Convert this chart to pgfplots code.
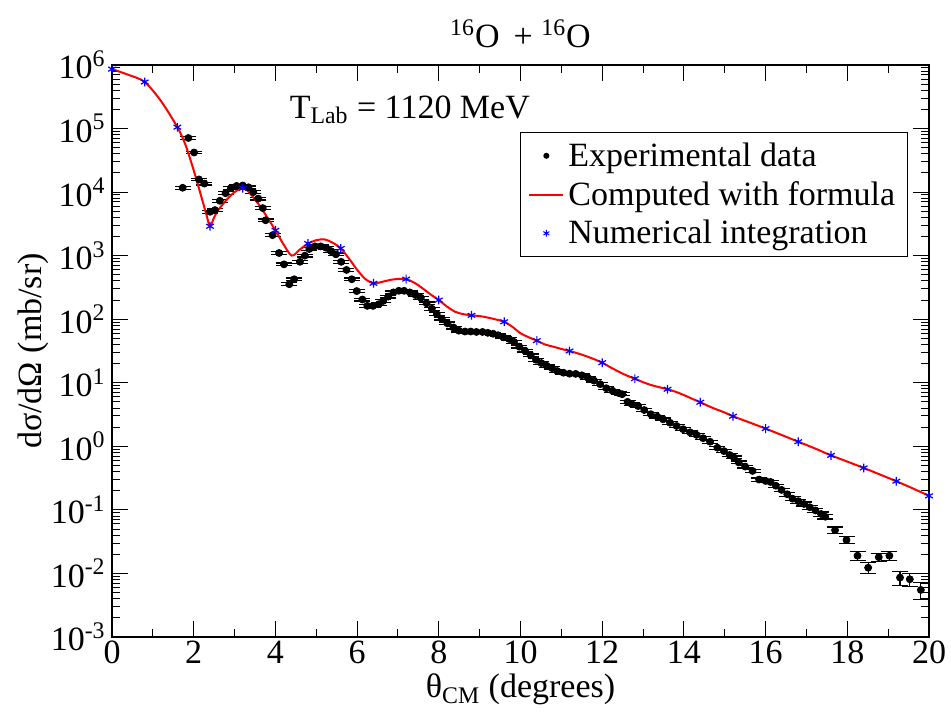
\documentclass[border=0pt]{standalone}
\usepackage{fontspec}
\setmainfont{Liberation Serif}
\usepackage{pgfplots}
\pgfplotsset{compat=1.18}
\usepackage{pgfplotstable}

% experimental cross sections: angle, value, relative error
\pgfplotstableread{
x y e
1.73 1.17e4 0.05
1.87 7.1e4 0.05
2.01 4.2e4 0.05
2.13 1.58e4 0.05
2.26 1.36e4 0.05
2.40 4.9e3 0.05
2.52 5.2e3 0.05
2.64 7.3e3 0.05
2.78 9.6e3 0.05
2.91 1.15e4 0.05
3.05 1.25e4 0.05
3.20 1.27e4 0.05
3.34 1.19e4 0.05
3.46 1.0e4 0.05
3.58 7.9e3 0.05
3.69 5.6e3 0.05
3.76 3.6e3 0.05
3.93 2.1e3 0.05
4.09 1.1e3 0.05
4.21 730 0.05
4.34 355 0.05
4.46 425 0.05
4.60 800 0.05
4.72 1000 0.05
4.83 1270 0.05
4.97 1400 0.05
5.11 1400 0.05
5.24 1330 0.05
5.36 1180 0.05
5.48 1050 0.05
5.61 800 0.05
5.74 596 0.05
5.87 425 0.05
5.99 277 0.05
6.13 204 0.05
6.25 162 0.05
6.39 162 0.05
6.53 172 0.05
6.64 194 0.05
6.76 227 0.05
6.89 264 0.05
7.02 280 0.05
7.15 280 0.05
7.29 264 0.05
7.43 240 0.05
7.56 218 0.05
7.70 178 0.05
7.83 146 0.05
7.95 120 0.05
8.07 102 0.05
8.21 86 0.05
8.36 74 0.05
8.49 66 0.05
8.64 64 0.05
8.78 64 0.05
8.92 63 0.05
9.07 63 0.05
9.20 61 0.05
9.33 59 0.05
9.45 56 0.05
9.58 52 0.05
9.72 49 0.05
9.84 44 0.05
9.97 37 0.05
10.11 32 0.05
10.25 27 0.05
10.38 23 0.05
10.51 20.4 0.05
10.64 18.5 0.05
10.77 17 0.05
10.90 15.3 0.05
11.05 14.4 0.05
11.20 13.9 0.05
11.35 13.8 0.05
11.50 13.1 0.05
11.65 12 0.05
11.80 10.8 0.05
11.95 9.5 0.05
12.10 8.2 0.05
12.25 7.5 0.05
12.40 6.9 0.05
12.49 6.6 0.05
12.62 5.0 0.05
12.72 4.64 0.05
12.88 4.3 0.05
13.03 3.72 0.05
13.19 3.2 0.05
13.35 2.93 0.05
13.49 2.66 0.05
13.66 2.35 0.05
13.82 2.09 0.05
13.98 1.86 0.05
14.15 1.66 0.05
14.31 1.51 0.05
14.47 1.34 0.05
14.64 1.18 0.05
14.82 0.95 0.05
14.98 0.84 0.05
15.12 0.73 0.05
15.22 0.67 0.05
15.34 0.56 0.05
15.50 0.48 0.05
15.68 0.41 0.05
15.84 0.30 0.06
16.00 0.285 0.06
16.12 0.275 0.06
16.25 0.24 0.06
16.39 0.206 0.06
16.53 0.176 0.07
16.66 0.150 0.07
16.80 0.137 0.07
16.94 0.124 0.07
17.08 0.110 0.07
17.22 0.098 0.07
17.36 0.086 0.08
17.46 0.078 0.08
17.70 0.048 0.12
17.98 0.0336 0.12
18.25 0.019 0.17
18.51 0.0123 0.20
18.77 0.018 0.15
19.03 0.019 0.15
19.29 0.0086 0.25
19.53 0.0081 0.22
19.80 0.0055 0.30
}\expdata

% curve from the formula
\pgfplotstableread{
x y
0 8.6e5
0.4 7.0e5
0.8 5.4e5
1.2 2.7e5
1.6 1.05e5
1.8 5.5e4
2.0 2.2e4
2.2 7.9e3
2.32 4.2e3
2.4 2.9e3
2.5 4.0e3
2.6 5.2e3
2.8 7.5e3
3.0 1.0e4
3.15 1.12e4
3.3 1.08e4
3.6 6.3e3
3.8 4.0e3
4.0 2.5e3
4.2 1.5e3
4.4 1.0e3
4.6 1.25e3
4.8 1.55e3
5.0 1.75e3
5.2 1.8e3
5.4 1.6e3
5.6 1.3e3
5.8 900
6.0 600
6.2 430
6.4 367
6.6 385
6.8 414
7.0 430
7.2 427
7.4 375
7.6 307
7.8 245
8.0 200
8.2 158
8.4 131
8.6 120
8.8 115
9.0 112
9.2 106
9.4 99
9.6 91
9.8 76
10.0 60
10.2 52
10.4 46
10.6 40
10.8 37
11.0 34
11.2 31.6
11.4 29
11.6 26.3
11.8 23.5
12.0 20.7
12.2 17.5
12.4 15
12.6 13
12.8 11.6
13.0 10.2
13.2 9.2
13.4 8.5
13.6 7.9
13.8 7.2
14.0 6.4
14.2 5.6
14.4 4.93
14.6 4.3
14.8 3.8
15.0 3.4
15.2 2.97
15.6 2.38
16.0 1.90
16.4 1.50
16.8 1.18
17.2 0.93
17.6 0.72
18.0 0.575
18.4 0.457
18.8 0.36
19.2 0.282
19.6 0.218
20.0 0.166
}\formula

% numerical integration, every 0.8 deg
\pgfplotstableread{
x y
0 8.6e5
0.8 5.4e5
1.6 1.05e5
2.4 2.9e3
3.2 1.15e4
4.0 2.5e3
4.8 1.55e3
5.6 1.3e3
6.4 367
7.2 427
8.0 200
8.8 115
9.6 91
10.4 46
11.2 31.6
12.0 20.7
12.8 11.6
13.6 7.9
14.4 4.93
15.2 2.97
16.0 1.90
16.8 1.18
17.6 0.72
18.4 0.457
19.2 0.282
20.0 0.166
}\numint

\newcommand{\fs}{\fontsize{17}{20}\selectfont}

\begin{document}
\begin{tikzpicture}[font=\fs]
\begin{axis}[
    scale only axis,
    width=408.5pt, height=286pt,
    xmin=0, xmax=20, ymin=1e-3, ymax=1e6,
    ymode=log,
    xtick={0,2,...,20}, minor x tick num=1,
    ytick={1e-3,1e-2,1e-1,1,1e1,1e2,1e3,1e4,1e5,1e6},
    yticklabels={10\textsuperscript{-3},10\textsuperscript{-2},10\textsuperscript{-1},10\textsuperscript{0},10\textsuperscript{1},10\textsuperscript{2},10\textsuperscript{3},10\textsuperscript{4},10\textsuperscript{5},10\textsuperscript{6}},
    /pgf/number format/assume math mode=true,
    tick align=inside,
    major tick length=8pt, minor tick length=4pt,
    axis line style={line width=0.7pt},
    every tick/.style={black, line width=0.5pt},
    tick label style={font=\fs},
    xticklabel style={inner sep=2pt},
    yticklabel style={inner sep=3pt},
    clip=false,
    legend style={at={(0.974,0.883)}, anchor=north east, draw=black,
        line width=0.6pt, font=\fs, inner xsep=4pt, inner ysep=3pt,
        row sep=2pt},
    legend cell align=left,
]
\addplot[black, only marks, mark=*, mark size=1.75pt, forget plot,
    error bars/.cd, y dir=both, y explicit relative,
    error mark options={rotate=90, black, mark size=4pt, line width=0.6pt},
    error bar style={black, line width=0.6pt}]
    table[x=x, y=y, y error=e]{\expdata};
\addlegendimage{legend image code/.code={\fill[black] (0.3cm,0cm) circle (1.2pt);}}
\addlegendentry{Experimental data}
\addplot[red, line width=1pt, smooth, tension=0.5, forget plot] table[x=x, y=y]{\formula};
\addlegendimage{red, line width=1pt}
\addlegendentry{Computed with formula}
\addplot[blue, only marks, mark=asterisk, mark size=2.2pt,
    mark options={line width=0.6pt}, forget plot] table[x=x, y=y]{\numint};
\addlegendimage{legend image code/.code={\draw[blue, line width=0.5pt] plot[mark=asterisk, mark size=1.7pt] coordinates {(0.3cm,0cm)};}}
\addlegendentry{Numerical integration}

\node[anchor=base west] at (rel axis cs:0.209,0.907) {T\textsubscript{Lab} = 1120 MeV};
\node[anchor=base] at (rel axis cs:0.5,1.0302) {\textsuperscript{16}O\, + \textsuperscript{16}O};
\node[anchor=base] at (rel axis cs:0.5,-0.1066) {θ\textsubscript{CM} (degrees)};
\node[anchor=base, rotate=90] at (rel axis cs:-0.0869,0.5) {dσ/dΩ (mb/sr)};
\coordinate (bbsw) at (rel axis cs:-0.1371,-0.1399);
\coordinate (bbne) at (rel axis cs:1.0269,1.1136);
\end{axis}
\pgfresetboundingbox
\path (bbsw) rectangle (bbne);
\end{tikzpicture}
\end{document}
